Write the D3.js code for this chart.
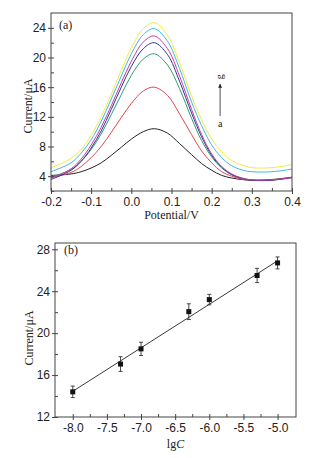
<!DOCTYPE html>
<html>
<head>
<meta charset="utf-8">
<script src="https://cdn.jsdelivr.net/npm/d3@7/dist/d3.min.js"></script>
<style>
  body { margin: 0; background: #fff; }
  svg { display: block; font-family: 'Liberation Serif', 'DejaVu Serif', serif; }
  .tick text { font-size: 12px; fill: #222; }
</style>
</head>
<body>
<svg id="chart"></svg>
<script>
// panel (a): DPV curves a..g
const potential = [-0.2, -0.15, -0.125, -0.1, -0.075, -0.05, -0.025, 0, 0.03, 0.057, 0.09, 0.12, 0.15, 0.175, 0.2, 0.225, 0.25, 0.275, 0.3, 0.35, 0.4];
const curveA = [4.1, 4.3, 4.6, 5.1, 5.8, 6.8, 7.9, 9.0, 10.0, 10.4, 9.8, 8.4, 6.9, 5.7, 4.8, 4.1, 3.75, 3.55, 3.45, 3.55, 3.85];
const curveB = [3.8, 4.5, 5.3, 6.5, 8.0, 9.9, 11.9, 13.8, 15.5, 16.0, 14.9, 12.4, 9.6, 7.4, 5.8, 4.6, 4.0, 3.6, 3.45, 3.5, 3.85];
const curveC = [3.85, 4.9, 6.0, 7.6, 9.7, 12.3, 15.0, 17.6, 19.8, 20.5, 19.0, 15.8, 11.8, 8.8, 6.6, 5.1, 4.2, 3.75, 3.5, 3.5, 3.85];
const curveD = [3.55, 4.8, 6.0, 7.8, 10.1, 13.0, 16.0, 18.8, 21.2, 22.0, 20.4, 16.8, 12.5, 9.3, 6.8, 5.2, 4.2, 3.7, 3.45, 3.45, 3.8];
const curveE = [3.7, 5.0, 6.3, 8.2, 10.6, 13.5, 16.6, 19.5, 22.1, 22.9, 21.2, 17.5, 13.0, 9.6, 7.0, 5.3, 4.3, 3.75, 3.5, 3.5, 3.8];
const curveF = [4.6, 5.8, 7.1, 8.9, 11.4, 14.4, 17.5, 20.5, 23.1, 23.9, 22.2, 18.5, 14.0, 10.8, 8.2, 6.5, 5.4, 4.85, 4.6, 4.6, 4.95];
const curveG = [5.1, 6.4, 7.6, 9.5, 12.0, 15.0, 18.3, 21.3, 23.9, 24.7, 23.0, 19.3, 14.8, 11.6, 9.0, 7.3, 6.1, 5.5, 5.15, 5.15, 5.55];
const curveNames = ['a', 'b', 'c', 'd', 'e', 'f', 'g'];
const curveColors = ['#222222', '#e8434f', '#2f9e6e', '#34348a', '#c13bb0', '#3fb6e8', '#f2ec3c'];
const potentialTicks = [-0.2, -0.1, 0, 0.1, 0.2, 0.3, 0.4];
const currentTicksA = [4, 8, 12, 16, 20, 24];

// panel (b): calibration
const lgC = [-8.0, -7.3, -7.0, -6.3, -6.0, -5.3, -5.0];
const currentB = [14.4, 17.05, 18.5, 22.05, 23.2, 25.5, 26.7];
const errorB = [0.55, 0.7, 0.63, 0.75, 0.5, 0.68, 0.57];
const fitX = [-8.0, -5.0];
const fitY = [14.45, 26.9];
const lgcTicks = [-8.0, -7.5, -7.0, -6.5, -6.0, -5.5, -5.0];
const currentTicksB = [12, 16, 20, 24, 28];

const width = 311, height = 458;
const svg = d3.select('#chart').attr('width', width).attr('height', height);
const fmt = v => d3.format('.1f')(v).replace('\u2212', '-');

function frame(g, x, y, opts) {
  const [x0, x1] = x.range();
  const [y0, y1] = y.range();
  // minor ticks pointing in
  g.append('g')
    .attr('transform', `translate(0,${y0})`)
    .call(d3.axisBottom(x).tickValues(opts.xMinor).tickSize(-3).tickFormat(''))
    .call(a => a.select('.domain').remove());
  g.append('g')
    .attr('transform', `translate(${x0},0)`)
    .call(d3.axisLeft(y).tickValues(opts.yMinor).tickSize(-3).tickFormat(''))
    .call(a => a.select('.domain').remove());
  // major ticks crossing the axis
  const xa = g.append('g')
    .attr('transform', `translate(0,${y0})`)
    .call(d3.axisBottom(x).tickValues(opts.xTicks).tickSize(3).tickPadding(3).tickFormat(opts.xFormat));
  xa.select('.domain').remove();
  xa.selectAll('.tick line').attr('y1', -3);
  const ya = g.append('g')
    .attr('transform', `translate(${x0},0)`)
    .call(d3.axisLeft(y).tickValues(opts.yTicks).tickSize(3).tickPadding(2).tickFormat(d3.format('d')));
  ya.select('.domain').remove();
  ya.selectAll('.tick line').attr('x1', 3);
  g.selectAll('.tick line').attr('stroke', '#444');
  g.append('rect')
    .attr('x', x0).attr('y', y1)
    .attr('width', x1 - x0).attr('height', y0 - y1)
    .attr('fill', 'none').attr('stroke', '#444').attr('stroke-width', 1);
}

// ---- panel (a)
const xA = d3.scaleLinear().domain([-0.2, 0.4]).range([51, 292]);
const yA = d3.scaleLinear().domain([2, 26]).range([191, 13]);
const gA = svg.append('g');

const curves = [curveA, curveB, curveC, curveD, curveE, curveF, curveG];
const line = d3.line()
  .x(d => xA(d[0]))
  .y(d => yA(d[1]))
  .curve(d3.curveCatmullRom.alpha(0.5));

gA.selectAll('.curve')
  .data(curves)
  .join('path')
  .attr('class', 'curve')
  .attr('d', c => line(potential.map((p, i) => [p, c[i]])))
  .attr('fill', 'none')
  .attr('stroke', (c, i) => curveColors[i])
  .attr('stroke-width', 1);

frame(gA, xA, yA, {
  xTicks: potentialTicks,
  xMinor: d3.range(-0.15, 0.4, 0.1),
  yTicks: currentTicksA,
  yMinor: d3.range(2, 26, 4),
  xFormat: fmt
});

// arrow a -> g
const defs = svg.append('defs');
defs.append('marker')
  .attr('id', 'head')
  .attr('viewBox', '0 0 10 10')
  .attr('refX', 9).attr('refY', 5)
  .attr('markerWidth', 5).attr('markerHeight', 6)
  .attr('orient', 'auto')
  .append('path').attr('d', 'M0,0L10,5L0,10z').attr('fill', '#222');

gA.append('line')
  .attr('x1', xA(0.221)).attr('x2', xA(0.221))
  .attr('y1', yA(12.1)).attr('y2', yA(16.4))
  .attr('stroke', '#222').attr('stroke-width', 0.8)
  .attr('marker-end', 'url(#head)');
gA.append('text')
  .attr('x', xA(0.221)).attr('y', yA(10.6))
  .attr('text-anchor', 'middle')
  .attr('font-size', 10).attr('fill', '#222')
  .text(curveNames[0]);
gA.append('text')
  .attr('transform', `translate(${xA(0.221) + 3},${yA(17.4)}) rotate(-90)`)
  .attr('text-anchor', 'middle')
  .attr('font-size', 10).attr('fill', '#222')
  .text(curveNames[6]);

gA.append('text')
  .attr('x', 59).attr('y', 29)
  .attr('font-size', 12).attr('fill', '#222')
  .text('(a)');
gA.append('text')
  .attr('x', (51 + 292) / 2).attr('y', 219)
  .attr('text-anchor', 'middle')
  .attr('font-size', 12).attr('fill', '#222')
  .text('Potential/V');
gA.append('text')
  .attr('transform', `translate(32,${(13 + 191) / 2 + 4}) rotate(-90)`)
  .attr('text-anchor', 'middle')
  .attr('font-size', 12).attr('fill', '#222')
  .text('Current/\u03bcA');

// ---- panel (b)
const xB = d3.scaleLinear().domain([-8.26, -4.73]).range([55, 296]);
const yB = d3.scaleLinear().domain([12, 28.6]).range([417, 243]);
const gB = svg.append('g');

frame(gB, xB, yB, {
  xTicks: lgcTicks,
  xMinor: d3.range(-7.75, -4.9, 0.5),
  yTicks: currentTicksB,
  yMinor: d3.range(14, 28.6, 4),
  xFormat: fmt
});

gB.append('line')
  .attr('x1', xB(fitX[0])).attr('y1', yB(fitY[0]))
  .attr('x2', xB(fitX[1])).attr('y2', yB(fitY[1]))
  .attr('stroke', '#222').attr('stroke-width', 0.9);

const pts = lgC.map((v, i) => ({x: v, y: currentB[i], e: errorB[i]}));
const err = gB.selectAll('.err')
  .data(pts)
  .join('g')
  .attr('class', 'err')
  .attr('stroke', '#333').attr('stroke-width', 0.9);
err.append('line')
  .attr('x1', d => xB(d.x)).attr('x2', d => xB(d.x))
  .attr('y1', d => yB(d.y - d.e)).attr('y2', d => yB(d.y + d.e));
err.append('line')
  .attr('x1', d => xB(d.x) - 2).attr('x2', d => xB(d.x) + 2)
  .attr('y1', d => yB(d.y + d.e)).attr('y2', d => yB(d.y + d.e));
err.append('line')
  .attr('x1', d => xB(d.x) - 2).attr('x2', d => xB(d.x) + 2)
  .attr('y1', d => yB(d.y - d.e)).attr('y2', d => yB(d.y - d.e));

gB.selectAll('.pt')
  .data(pts)
  .join('rect')
  .attr('class', 'pt')
  .attr('x', d => xB(d.x) - 2.5).attr('y', d => yB(d.y) - 2.5)
  .attr('width', 5).attr('height', 5)
  .attr('fill', '#111');

gB.append('text')
  .attr('x', 64).attr('y', 254)
  .attr('font-size', 12).attr('fill', '#222')
  .text('(b)');
const xt = gB.append('text')
  .attr('x', (55 + 296) / 2).attr('y', 448)
  .attr('text-anchor', 'middle')
  .attr('font-size', 12).attr('fill', '#222');
xt.append('tspan').text('lg');
xt.append('tspan').attr('font-style', 'italic').text('C');
gB.append('text')
  .attr('transform', `translate(33,${(243 + 417) / 2 + 8}) rotate(-90)`)
  .attr('text-anchor', 'middle')
  .attr('font-size', 12).attr('fill', '#222')
  .text('Current/\u03bcA');
</script>
</body>
</html>
